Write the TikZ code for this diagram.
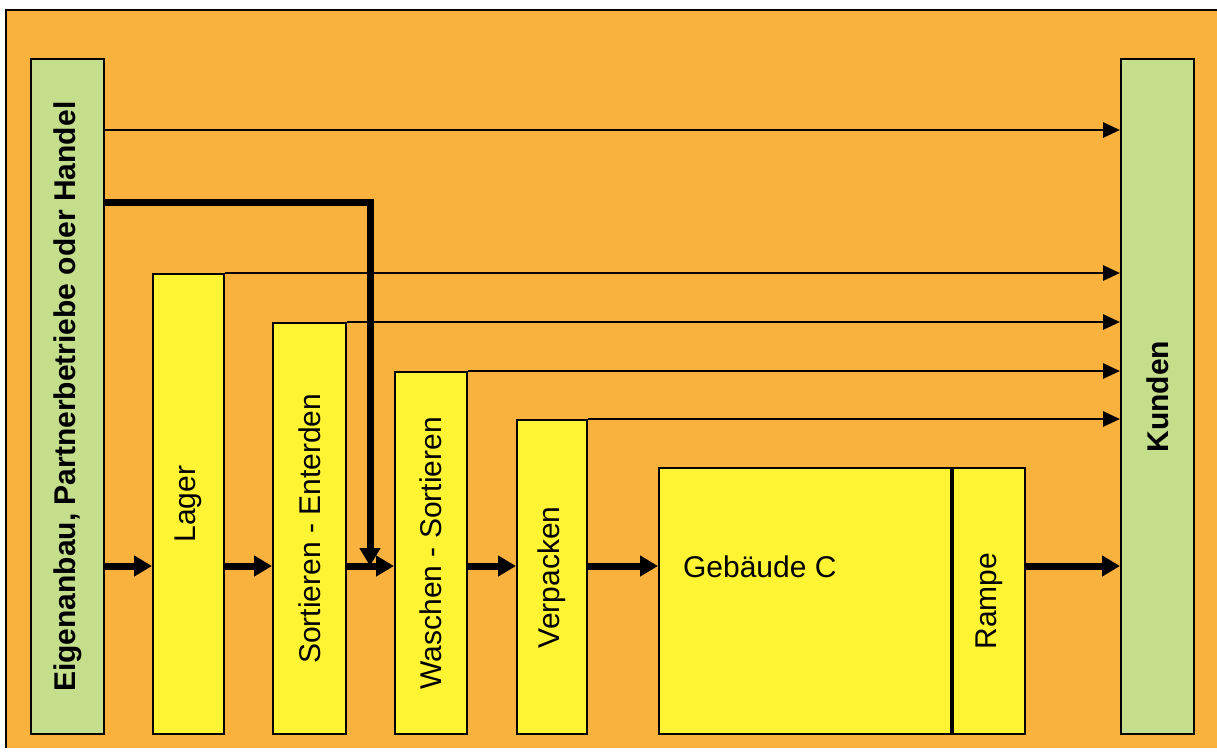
\documentclass[tikz,border=0pt]{standalone}
\usepackage{fontspec}
\setmainfont{Liberation Sans}
\usetikzlibrary{arrows.meta}
\usepackage{xcolor}
\definecolor{bgorange}{RGB}{250,178,62}
\definecolor{boxyellow}{RGB}{255,244,52}
\definecolor{boxgreen}{RGB}{196,222,140}

\begin{document}
\begin{tikzpicture}[x=0.5pt,y=-0.5pt,>={Triangle[length=8.5pt,width=7.5pt]},
  font=\fontsize{15}{18}\selectfont,
  box/.style={draw,line width=1.2pt,fill=boxyellow,anchor=north west,inner sep=0pt},
  endbox/.style={box,fill=boxgreen,font=\fontsize{15}{18}\selectfont\bfseries,minimum width=36.5pt,minimum height=337.5pt},
  side/.style={->,line width=1.4pt},
  flow/.style={-{Triangle[length=9pt,width=10pt]},line width=3.5pt}]
\useasboundingbox (0,0) rectangle (1217,752);
\fill[white] (0,0) rectangle (1217,752);
\fill[bgorange] (6,10) rectangle (1217,748);
\draw[line width=1.2pt] (1217,10) -- (6,10) -- (6,748);
% stations
\node[endbox] (src) at (30,58) {\rotatebox{90}{Eigenanbau, Partnerbetriebe oder Handel}};
\node[endbox] (kunden) at (1120,58) {\rotatebox{90}{Kunden}};
\node[box,minimum width=35.5pt,minimum height=230pt] (lager) at (152,273) {\rotatebox{90}{Lager}};
\node[box,minimum width=36.5pt,minimum height=205.5pt] (sort) at (272,322) {\rotatebox{90}{Sortieren - Enterden}};
\node[box,minimum width=36pt,minimum height=181pt] (wasch) at (394,371) {\rotatebox{90}{Waschen - Sortieren}};
\node[box,minimum width=35pt,minimum height=157pt] (verp) at (516,419) {\rotatebox{90}{Verpacken}};
\node[box,minimum width=146pt,minimum height=133pt] (geb) at (658,467) {};
\node[box,line width=1pt,minimum width=36pt,minimum height=133pt] (rampe) at (geb.north east) {\rotatebox{90}{Rampe}};
\node[anchor=west] (gebtxt) at (676,567) {Gebäude C};
% rows
\coordinate (toprow) at (0,130);
\coordinate (bendrow) at (0,202);
\coordinate (flowrow) at (0,566);
\coordinate (drop) at (370,566);
% arrows
\draw[side] (src.east |- toprow) -- (kunden.west |- toprow);
\draw[flow] (src.east |- bendrow) -| (drop);
\foreach \n in {lager,sort,wasch,verp}
  \draw[side] (\n.north east) -- (kunden.west |- \n.north east);
\foreach \a/\b in {src/lager,lager/sort,sort/wasch,wasch/verp,verp/geb,rampe/kunden}
  \draw[flow] (\a.east |- flowrow) -- (\b.west |- flowrow);
\end{tikzpicture}
\end{document}
